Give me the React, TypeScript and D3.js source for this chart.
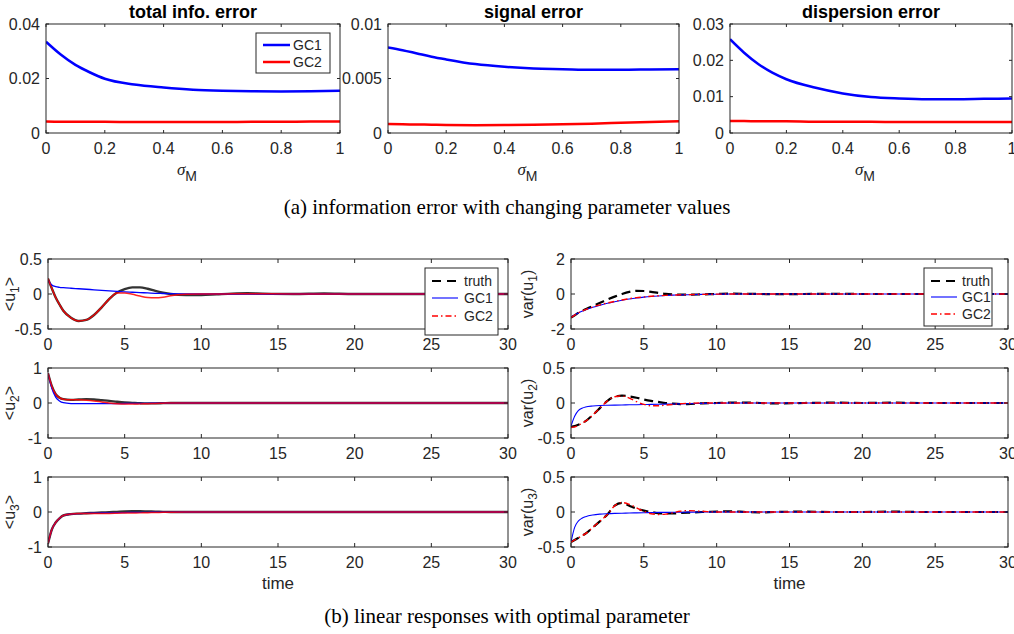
import React from 'react';
import * as d3 from 'd3';

// ---- top row: information error vs sigma_M ----
const sigma = [0, 0.05, 0.1, 0.15, 0.2, 0.3, 0.4, 0.5, 0.6, 0.7, 0.8, 0.9, 1.0];
const totalGC1 = [0.0335, 0.0288, 0.0250, 0.0222, 0.0199, 0.0178, 0.0167, 0.0159, 0.0155, 0.0153, 0.0152, 0.0153, 0.0155];
const totalGC2 = [0.0042, 0.0041, 0.0041, 0.0041, 0.0041, 0.0040, 0.0040, 0.0040, 0.0040, 0.0041, 0.0041, 0.0042, 0.0042];
const signalGC1 = [0.00785, 0.0076, 0.0073, 0.0070, 0.00675, 0.00632, 0.00607, 0.00592, 0.00586, 0.0058, 0.0058, 0.00583, 0.00586];
const signalGC2 = [0.00082, 0.0008, 0.00078, 0.00076, 0.00074, 0.00072, 0.00073, 0.00076, 0.0008, 0.00086, 0.00093, 0.001, 0.00108];
const dispGC1 = [0.0258, 0.0221, 0.0190, 0.0166, 0.0148, 0.0125, 0.0109, 0.0099, 0.0095, 0.0093, 0.0093, 0.0094, 0.0095];
const dispGC2 = [0.0033, 0.0033, 0.0032, 0.0032, 0.0032, 0.0031, 0.0031, 0.0031, 0.0030, 0.0030, 0.0030, 0.0030, 0.0030];

const topTitles = ['total info. error', 'signal error', 'dispersion error'];
const sigmaTicks = [0, 0.2, 0.4, 0.6, 0.8, 1];
const sigmaTickLabels = ['0', '0.2', '0.4', '0.6', '0.8', '1'];
const totalTicks = [0, 0.02, 0.04];
const totalTickLabels = ['0', '0.02', '0.04'];
const signalTicks = [0, 0.005, 0.01];
const signalTickLabels = ['0', '0.005', '0.01'];
const dispTicks = [0, 0.01, 0.02, 0.03];
const dispTickLabels = ['0', '0.01', '0.02', '0.03'];

// ---- bottom rows: linear responses over time ----
const time = [0, 0.25, 0.5, 0.75, 1, 1.5, 2, 2.5, 3, 3.5, 4, 4.5, 5, 5.5, 6, 6.5, 7, 7.5, 8, 9, 10, 11, 12, 13, 14, 16, 18, 20, 22, 24, 26, 28, 30];

const u1Truth = [0.22, 0.08, -0.05, -0.15, -0.24, -0.34, -0.385, -0.37, -0.30, -0.19, -0.07, 0.02, 0.07, 0.095, 0.095, 0.075, 0.045, 0.02, 0.0, -0.015, -0.015, -0.005, 0.005, 0.01, 0.005, 0.0, 0.008, 0.0, 0.0, 0.0, 0.0, 0.0, 0.0];
const u1GC1 = [0.2, 0.13, 0.105, 0.095, 0.09, 0.082, 0.075, 0.068, 0.06, 0.053, 0.045, 0.038, 0.03, 0.025, 0.02, 0.015, 0.01, 0.007, 0.005, 0.0, 0.0, 0.0, 0.0, 0.0, 0.0, 0.0, 0.0, 0.0, 0.0, 0.0, 0.0, 0.0, 0.0];
const u1GC2 = [0.22, 0.08, -0.05, -0.15, -0.24, -0.34, -0.385, -0.37, -0.30, -0.19, -0.07, 0.015, 0.015, -0.005, -0.03, -0.05, -0.055, -0.045, -0.025, -0.005, 0.0, 0.0, 0.003, 0.005, 0.003, 0.0, 0.0, 0.0, 0.0, 0.0, 0.0, 0.0, 0.0];

const v1Truth = [-1.35, -1.22, -1.08, -0.97, -0.87, -0.68, -0.5, -0.32, -0.15, 0.0, 0.12, 0.18, 0.17, 0.12, 0.06, 0.01, -0.02, -0.04, -0.04, -0.02, 0.0, 0.02, 0.01, 0.0, -0.01, 0.0, 0.01, 0.0, 0.0, 0.0, 0.0, 0.0, 0.0];
const v1GC1 = [-1.33, -1.2, -1.08, -0.98, -0.9, -0.76, -0.64, -0.53, -0.44, -0.36, -0.29, -0.23, -0.18, -0.14, -0.11, -0.085, -0.065, -0.05, -0.04, -0.02, -0.01, 0.0, 0.0, 0.0, 0.0, 0.0, 0.0, 0.0, 0.0, 0.0, 0.0, 0.0, 0.0];
const v1GC2 = [-1.35, -1.21, -1.08, -0.98, -0.89, -0.74, -0.62, -0.51, -0.42, -0.34, -0.27, -0.21, -0.17, -0.13, -0.1, -0.08, -0.06, -0.045, -0.035, -0.02, -0.01, 0.0, 0.0, 0.0, 0.0, 0.0, 0.0, 0.0, 0.0, 0.0, 0.0, 0.0, 0.0];

const u2Truth = [0.85, 0.48, 0.25, 0.15, 0.11, 0.09, 0.1, 0.11, 0.1, 0.08, 0.06, 0.035, 0.015, 0.005, -0.005, -0.01, -0.01, -0.005, 0.0, 0.0, 0.0, 0.0, 0.0, 0.0, 0.0, 0.0, 0.0, 0.0, 0.0, 0.0, 0.0, 0.0, 0.0];
const u2GC1 = [0.85, 0.42, 0.17, 0.06, 0.01, -0.015, -0.02, -0.02, -0.02, -0.02, -0.018, -0.016, -0.014, -0.012, -0.01, -0.008, -0.006, -0.004, -0.002, 0.0, 0.0, 0.0, 0.0, 0.0, 0.0, 0.0, 0.0, 0.0, 0.0, 0.0, 0.0, 0.0, 0.0];
const u2GC2 = [0.85, 0.48, 0.25, 0.15, 0.11, 0.09, 0.09, 0.08, 0.06, 0.03, 0.0, -0.02, -0.03, -0.03, -0.025, -0.02, -0.012, -0.006, 0.0, 0.0, 0.0, 0.0, 0.0, 0.0, 0.0, 0.0, 0.0, 0.0, 0.0, 0.0, 0.0, 0.0, 0.0];

const v2Truth = [-0.34, -0.33, -0.31, -0.29, -0.26, -0.17, -0.07, 0.03, 0.09, 0.105, 0.095, 0.075, 0.05, 0.03, 0.015, 0.0, -0.01, -0.015, -0.015, -0.005, 0.0, 0.005, 0.005, 0.0, -0.005, 0.0, 0.005, 0.0, 0.005, 0.0, 0.0, 0.0, 0.0];
const v2GC1 = [-0.33, -0.19, -0.11, -0.075, -0.056, -0.042, -0.035, -0.032, -0.03, -0.028, -0.026, -0.024, -0.022, -0.02, -0.018, -0.016, -0.014, -0.012, -0.01, -0.006, -0.003, 0.0, 0.0, 0.0, 0.0, 0.0, 0.0, 0.0, 0.0, 0.0, 0.0, 0.0, 0.0];
const v2GC2 = [-0.35, -0.34, -0.32, -0.29, -0.26, -0.17, -0.07, 0.03, 0.09, 0.1, 0.07, 0.02, -0.02, -0.04, -0.04, -0.03, -0.02, -0.01, -0.005, 0.0, 0.0, 0.0, 0.0, 0.0, 0.0, 0.0, 0.0, 0.0, 0.0, 0.0, 0.0, 0.0, 0.0];

const u3Truth = [-0.9, -0.5, -0.3, -0.18, -0.1, -0.06, -0.045, -0.035, -0.025, -0.015, -0.005, 0.005, 0.015, 0.02, 0.02, 0.015, 0.01, 0.005, 0.0, 0.0, 0.0, 0.0, 0.0, 0.0, 0.0, 0.0, 0.0, 0.0, 0.0, 0.0, 0.0, 0.0, 0.0];
const u3GC1 = [-0.9, -0.5, -0.3, -0.18, -0.1, -0.06, -0.045, -0.038, -0.033, -0.028, -0.024, -0.02, -0.015, -0.012, -0.01, -0.008, -0.006, -0.004, -0.002, 0.0, 0.0, 0.0, 0.0, 0.0, 0.0, 0.0, 0.0, 0.0, 0.0, 0.0, 0.0, 0.0, 0.0];
const u3GC2 = [-0.9, -0.5, -0.3, -0.18, -0.1, -0.06, -0.045, -0.042, -0.04, -0.04, -0.04, -0.035, -0.03, -0.028, -0.025, -0.02, -0.015, -0.01, -0.005, 0.0, 0.0, 0.0, 0.0, 0.0, 0.0, 0.0, 0.0, 0.0, 0.0, 0.0, 0.0, 0.0, 0.0];

const v3Truth = [-0.43, -0.4, -0.37, -0.34, -0.31, -0.22, -0.13, -0.035, 0.09, 0.13, 0.09, 0.05, 0.02, 0.0, -0.015, -0.02, -0.02, -0.015, -0.01, 0.0, 0.005, 0.01, 0.0, -0.005, 0.0, 0.005, 0.0, 0.0, 0.005, 0.0, 0.0, 0.0, 0.0];
const v3GC1 = [-0.43, -0.22, -0.13, -0.09, -0.067, -0.042, -0.03, -0.024, -0.02, -0.017, -0.015, -0.012, -0.01, -0.008, -0.006, -0.005, -0.004, -0.003, -0.002, 0.0, 0.0, 0.0, 0.0, 0.0, 0.0, 0.0, 0.0, 0.0, 0.0, 0.0, 0.0, 0.0, 0.0];
const v3GC2 = [-0.43, -0.4, -0.37, -0.34, -0.31, -0.22, -0.13, -0.035, 0.09, 0.135, 0.11, 0.06, 0.01, -0.025, -0.035, -0.03, -0.01, 0.01, 0.02, 0.01, 0.0, 0.0, 0.0, 0.0, 0.0, 0.0, 0.0, 0.0, 0.0, 0.0, 0.0, 0.0, 0.0];

const timeTicks = [0, 5, 10, 15, 20, 25, 30];
const unitTicks = [-1, 0, 1];
const unitTickLabels = ['-1', '0', '1'];
const halfTicks = [-0.5, 0, 0.5];
const halfTickLabels = ['-0.5', '0', '0.5'];
const twoTicks = [-2, 0, 2];
const twoTickLabels = ['-2', '0', '2'];

const legendTop = ['GC1', 'GC2'];
const legendBottom = ['truth', 'GC1', 'GC2'];

// ---- styling ----
const SANS = '"Liberation Sans", Arial, Helvetica, sans-serif';
const SERIF = '"Liberation Serif", "Times New Roman", serif';
const AX = '#262626';
const BLUE = '#0000ff';
const RED = '#ff0000';

type Series = { values: number[]; color: string; width: number; dash?: string; opacity?: number };

type PanelProps = {
  id: string;
  left: number; right: number; top: number; bottom: number;
  xs: number[]; xDomain: [number, number];
  yDomain: [number, number];
  xTicks: number[]; xTickLabels: string[];
  yTicks: number[]; yTickLabels: string[];
  fontSize: number; tickLen: number; xLabelGap: number;
  series: Series[];
};

function Panel(p: PanelProps) {
  const x = d3.scaleLinear().domain(p.xDomain).range([p.left, p.right]);
  const y = d3.scaleLinear().domain(p.yDomain).range([p.bottom, p.top]);
  return (
    <g>
      <defs>
        <clipPath id={p.id}>
          <rect x={p.left} y={p.top - 2} width={p.right - p.left} height={p.bottom - p.top + 4} />
        </clipPath>
      </defs>
      <g clipPath={`url(#${p.id})`}>
        {p.series.map((s, k) => {
          const line = d3.line<number>()
            .x((_, i) => x(p.xs[i]))
            .y(d => y(d))
            .curve(d3.curveMonotoneX);
          return (
            <path key={k} d={line(s.values) || ''} fill="none" stroke={s.color}
              strokeWidth={s.width} strokeDasharray={s.dash} strokeOpacity={s.opacity ?? 1}
              strokeLinejoin="round" />
          );
        })}
      </g>
      <rect x={p.left} y={p.top} width={p.right - p.left} height={p.bottom - p.top}
        fill="none" stroke={AX} strokeWidth={1} />
      {p.xTicks.map((t, i) => (
        <g key={'x' + i}>
          <line x1={x(t)} x2={x(t)} y1={p.bottom} y2={p.bottom - p.tickLen} stroke={AX} />
          <line x1={x(t)} x2={x(t)} y1={p.top} y2={p.top + p.tickLen} stroke={AX} />
          <text x={x(t)} y={p.bottom + p.xLabelGap} textAnchor="middle" fontSize={p.fontSize}
            fontFamily={SANS} fill={AX}>{p.xTickLabels[i]}</text>
        </g>
      ))}
      {p.yTicks.map((t, i) => (
        <g key={'y' + i}>
          <line x1={p.left} x2={p.left + p.tickLen} y1={y(t)} y2={y(t)} stroke={AX} />
          <line x1={p.right} x2={p.right - p.tickLen} y1={y(t)} y2={y(t)} stroke={AX} />
          <text x={p.left - 6} y={y(t)} dy="0.36em" textAnchor="end" fontSize={p.fontSize}
            fontFamily={SANS} fill={AX}>{p.yTickLabels[i]}</text>
        </g>
      ))}
    </g>
  );
}

type LegendEntry = { label: string; color: string; width: number; dash?: string };

function Legend({ x, y, w, h, rows, lineX0, lineX1, textX, entries, fontSize }:
  { x: number; y: number; w: number; h: number; rows: number[]; lineX0: number; lineX1: number; textX: number; entries: LegendEntry[]; fontSize: number }) {
  return (
    <g>
      <rect x={x} y={y} width={w} height={h} fill="#fff" stroke={AX} strokeWidth={1} />
      {entries.map((e, i) => (
        <g key={i}>
          <line x1={lineX0} x2={lineX1} y1={rows[i]} y2={rows[i]} stroke={e.color}
            strokeWidth={e.width} strokeDasharray={e.dash} />
          <text x={textX} y={rows[i]} dy="0.36em" fontSize={fontSize} fontFamily={SANS} fill={AX}>{e.label}</text>
        </g>
      ))}
    </g>
  );
}

export default function App() {
  const topCols = [
    { left: 46, right: 340 },
    { left: 388, right: 679 },
    { left: 730, right: 1012 },
  ];
  const topData = [
    { g1: totalGC1, g2: totalGC2, max: 0.04, ticks: totalTicks, labels: totalTickLabels },
    { g1: signalGC1, g2: signalGC2, max: 0.01, ticks: signalTicks, labels: signalTickLabels },
    { g1: dispGC1, g2: dispGC2, max: 0.03, ticks: dispTicks, labels: dispTickLabels },
  ];

  const rowTops = [259, 368, 477];
  const rowH = 70;
  const leftCol = { left: 48, right: 508 };
  const rightCol = { left: 571, right: 1008 };

  const meanRows = [
    { truth: u1Truth, g1: u1GC1, g2: u1GC2, dom: [-0.5, 0.5] as [number, number], ticks: halfTicks, labels: halfTickLabels, sub: '1' },
    { truth: u2Truth, g1: u2GC1, g2: u2GC2, dom: [-1, 1] as [number, number], ticks: unitTicks, labels: unitTickLabels, sub: '2' },
    { truth: u3Truth, g1: u3GC1, g2: u3GC2, dom: [-1, 1] as [number, number], ticks: unitTicks, labels: unitTickLabels, sub: '3' },
  ];
  const varRows = [
    { truth: v1Truth, g1: v1GC1, g2: v1GC2, dom: [-2, 2] as [number, number], ticks: twoTicks, labels: twoTickLabels, sub: '1' },
    { truth: v2Truth, g1: v2GC1, g2: v2GC2, dom: [-0.5, 0.5] as [number, number], ticks: halfTicks, labels: halfTickLabels, sub: '2' },
    { truth: v3Truth, g1: v3GC1, g2: v3GC2, dom: [-0.5, 0.5] as [number, number], ticks: halfTicks, labels: halfTickLabels, sub: '3' },
  ];

  const truthDash = '9,5';
  const gc2Dash = '6,3,1.5,3';

  return (
    <svg width={1014} height={634} style={{ position: 'absolute', left: 0, top: 0, background: '#fff' }}
      xmlns="http://www.w3.org/2000/svg">
      <rect x={0} y={0} width={1014} height={634} fill="#fff" />

      {topCols.map((c, i) => (
        <g key={'top' + i}>
          <Panel id={'clipTop' + i} left={c.left} right={c.right} top={24} bottom={133}
            xs={sigma} xDomain={[0, 1]} yDomain={[0, topData[i].max]}
            xTicks={sigmaTicks} xTickLabels={sigmaTickLabels}
            yTicks={topData[i].ticks} yTickLabels={topData[i].labels}
            fontSize={16} tickLen={3} xLabelGap={21}
            series={[
              { values: topData[i].g1, color: BLUE, width: 2.5 },
              { values: topData[i].g2, color: RED, width: 2.5 },
            ]} />
          <text x={(c.left + c.right) / 2} y={18} textAnchor="middle" fontWeight="bold"
            fontSize={18} fontFamily={SANS} fill="#000">{topTitles[i]}</text>
          <text x={(c.left + c.right) / 2 - 6} y={175} textAnchor="middle" fontSize={17}
            fontFamily={SANS} fill={AX}>
            <tspan fontFamily={SERIF} fontStyle="italic">σ</tspan>
            <tspan dy={6} fontSize={14}>M</tspan>
          </text>
        </g>
      ))}

      <Legend x={256} y={33} w={74} h={40} rows={[45, 62]} lineX0={263} lineX1={290} textX={293}
        fontSize={14}
        entries={[
          { label: legendTop[0], color: BLUE, width: 2.5 },
          { label: legendTop[1], color: RED, width: 2.5 },
        ]} />

      <text x={507} y={214} textAnchor="middle" fontSize={21} fontFamily={SERIF} fill="#000">
        (a) information error with changing parameter values
      </text>

      {meanRows.map((r, i) => (
        <g key={'mean' + i}>
          <Panel id={'clipMean' + i} left={leftCol.left} right={leftCol.right}
            top={rowTops[i]} bottom={rowTops[i] + rowH}
            xs={time} xDomain={[0, 30]} yDomain={r.dom}
            xTicks={timeTicks} xTickLabels={timeTicks.map(String)}
            yTicks={r.ticks} yTickLabels={r.labels}
            fontSize={16} tickLen={4} xLabelGap={21}
            series={[
              { values: r.truth, color: '#333', width: 2.4 },
              { values: r.g1, color: BLUE, width: 1.3 },
              { values: r.g2, color: RED, width: 1.5, opacity: 0.85 },
            ]} />
          <text transform={`translate(15,${rowTops[i] + rowH / 2}) rotate(-90)`} textAnchor="middle"
            fontSize={16} fontFamily={SANS} fill={AX}>
            {'<u'}<tspan dy={4} fontSize={12}>{r.sub}</tspan><tspan dy={-4}>{'>'}</tspan>
          </text>
        </g>
      ))}

      {varRows.map((r, i) => (
        <g key={'var' + i}>
          <Panel id={'clipVar' + i} left={rightCol.left} right={rightCol.right}
            top={rowTops[i]} bottom={rowTops[i] + rowH}
            xs={time} xDomain={[0, 30]} yDomain={r.dom}
            xTicks={timeTicks} xTickLabels={timeTicks.map(String)}
            yTicks={r.ticks} yTickLabels={r.labels}
            fontSize={16} tickLen={4} xLabelGap={21}
            series={[
              { values: r.truth, color: '#000', width: 2.2, dash: truthDash },
              { values: r.g1, color: BLUE, width: 1.1 },
              { values: r.g2, color: RED, width: 1.4, dash: gc2Dash },
            ]} />
          <text transform={`translate(533,${rowTops[i] + rowH / 2}) rotate(-90)`} textAnchor="middle"
            fontSize={16} fontFamily={SANS} fill={AX}>
            {'var(u'}<tspan dy={4} fontSize={12}>{r.sub}</tspan><tspan dy={-4}>{')'}</tspan>
          </text>
        </g>
      ))}

      <Legend x={425} y={268} w={73} h={67} rows={[281, 298, 316]} lineX0={432} lineX1={458} textX={464}
        fontSize={14}
        entries={[
          { label: legendBottom[0], color: '#000', width: 2.2, dash: '9,6' },
          { label: legendBottom[1], color: BLUE, width: 1.1 },
          { label: legendBottom[2], color: RED, width: 1.4, dash: gc2Dash },
        ]} />
      <Legend x={924} y={268} w={68} h={58} rows={[281, 297, 314]} lineX0={931} lineX1={957} textX={962}
        fontSize={14}
        entries={[
          { label: legendBottom[0], color: '#000', width: 2.2, dash: '9,6' },
          { label: legendBottom[1], color: BLUE, width: 1.1 },
          { label: legendBottom[2], color: RED, width: 1.4, dash: gc2Dash },
        ]} />

      <text x={(leftCol.left + leftCol.right) / 2} y={589} textAnchor="middle" fontSize={17}
        fontFamily={SANS} fill={AX}>time</text>
      <text x={(rightCol.left + rightCol.right) / 2} y={589} textAnchor="middle" fontSize={17}
        fontFamily={SANS} fill={AX}>time</text>

      <text x={507} y={623} textAnchor="middle" fontSize={21} fontFamily={SERIF} fill="#000">
        (b) linear responses with optimal parameter
      </text>
    </svg>
  );
}
